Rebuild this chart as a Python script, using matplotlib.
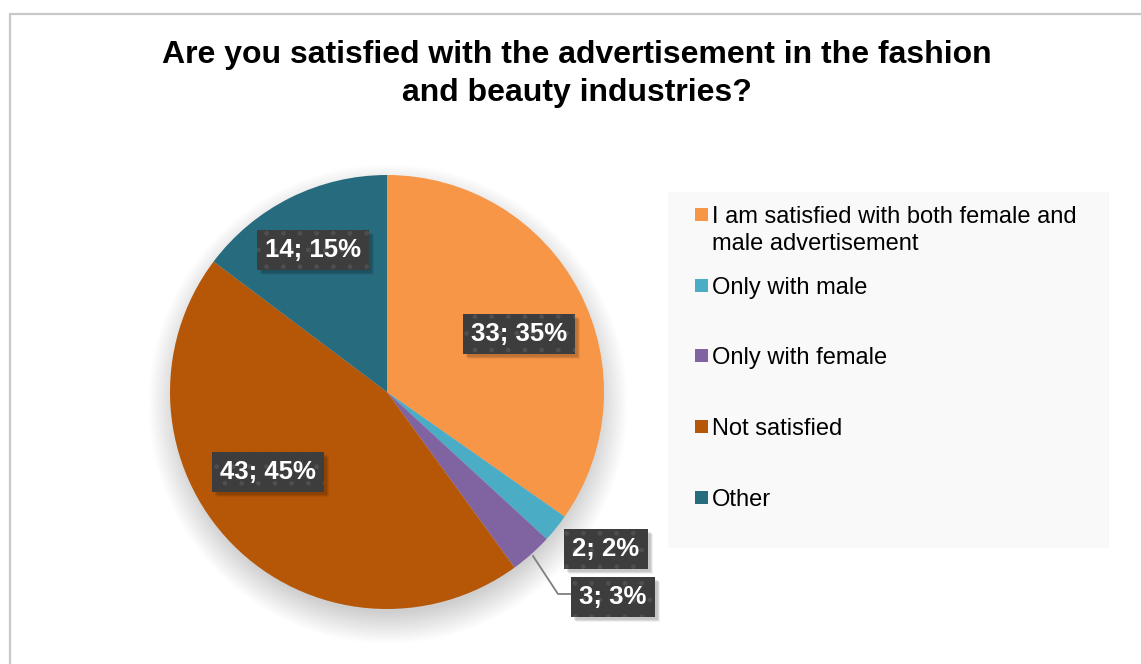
import matplotlib
matplotlib.use('Agg')
import matplotlib.pyplot as plt
from matplotlib.patches import Rectangle, Circle

plt.rcParams['font.family'] = ['Liberation Sans', 'DejaVu Sans']

# survey answers
answers = ["I am satisfied with both female and\nmale advertisement",
           "Only with male",
           "Only with female",
           "Not satisfied",
           "Other"]
counts = [33, 2, 3, 43, 14]
colors = ['#F79646', '#4BACC6', '#8064A2', '#B65708', '#266B7E']

# where the data labels sit (pixels, from top-left)
label_pos = [(519, 334), (606, 549), (613, 597), (268, 472), (313, 250)]

W, H = 1141, 664
fig = plt.figure(figsize=(W / 100, H / 100), dpi=100)
ax = fig.add_axes([0, 0, 1, 1])

# outer chart frame (runs off the right and bottom)
ax.add_patch(Rectangle((9.5, -20), W + 40, H - 13.5 + 20, fill=False,
                       edgecolor='#c8c8c8', lw=1.6, zorder=0))

cx, cy, R = 387, H - 392, 217

# soft shadow under the pie, mostly below it
for k in range(16):
    ax.add_patch(Circle((cx + 1, cy - 12), R - 8 + 2 * k, facecolor='black',
                        edgecolor='none', alpha=0.010, zorder=1))

wedges, _ = ax.pie(counts, colors=colors, startangle=90, counterclock=False,
                   center=(cx, cy), radius=R, frame=True,
                   wedgeprops=dict(linewidth=0))
for w in wedges:
    w.set_zorder(2)
ax.set_xlim(0, W)
ax.set_ylim(0, H)
ax.set_aspect('equal')
ax.axis('off')

# leader line for the small purple slice
ax.plot([533, 558, 571], [H - 556, H - 594, H - 594], color='#7f7f7f',
        lw=1.3, zorder=3)

total = sum(counts)
labels = []
for v, (px, py) in zip(counts, label_pos):
    txt = f"{v}; {round(100 * v / total)}%"
    t = ax.text(px, H - py, txt, ha='center', va='center', fontsize=18.5,
                fontweight='bold', color='white', zorder=5,
                bbox=dict(boxstyle='square,pad=0.31', facecolor='#3d3d3d',
                          edgecolor='#4f4f4f', lw=0, hatch='.'))
    labels.append(t)

# drop shadows behind the label boxes
fig.canvas.draw()
inv = ax.transData.inverted()
for t in labels:
    bb = t.get_bbox_patch().get_window_extent()
    (x0, y0), (x1, y1) = inv.transform([(bb.x0, bb.y0), (bb.x1, bb.y1)])
    for d, a in [(5, 0.06), (4, 0.08), (3, 0.1)]:
        ax.add_patch(Rectangle((x0 + d, y0 - d), x1 - x0, y1 - y0,
                               facecolor='black', edgecolor='none',
                               alpha=a, zorder=4))

# legend panel
ax.add_patch(Rectangle((668, H - 548), 441, 356, facecolor='#f9f9f9',
                       edgecolor='none', zorder=1))
rows = [214, 285, 355, 426, 497]
for name, col, ry in zip(answers, colors, rows):
    ax.add_patch(Rectangle((695, H - ry - 6.5), 13, 13, facecolor=col,
                           edgecolor='none', zorder=3))
    ax.text(712, H - ry + 8, name, ha='left', va='top', fontsize=17,
            color='black', linespacing=1.32, zorder=3)

ax.text(577, H - 74, "Are you satisfied with the advertisement in the fashion\n"
        "and beauty industries?", ha='center', va='center', fontsize=23,
        fontweight='bold', linespacing=1.38)

fig.savefig('out.png', dpi=100)
